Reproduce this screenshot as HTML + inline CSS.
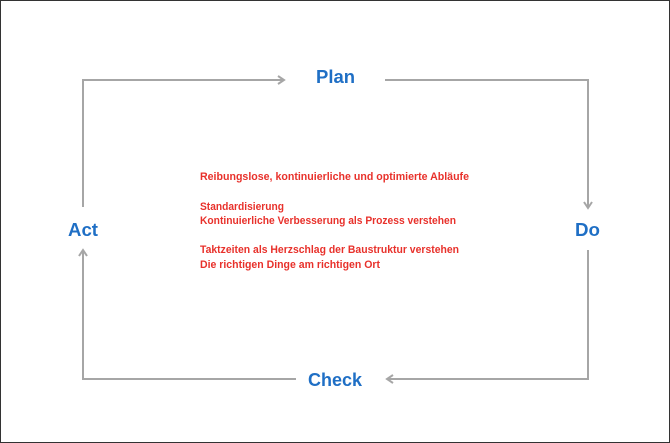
<!DOCTYPE html>
<html><head><style>body{margin:0;background:#fff}svg{display:block}</style></head><body>
<svg width="670" height="443" xmlns="http://www.w3.org/2000/svg">
<rect x="0.5" y="0.5" width="669" height="442" fill="#fff" stroke="#333" stroke-width="1"/>
<g stroke="#a6a6a6" stroke-width="2" fill="none">
<polyline points="83,207 83,80 284,80"/>
<polyline points="278,76 284,80 278,84"/>
<polyline points="385,80 588,80 588,208"/>
<polyline points="584,202 588,208 592,202"/>
<polyline points="588,250 588,379 387,379"/>
<polyline points="393,375 387,379 393,383"/>
<polyline points="296,379 83,379 83,250"/>
<polyline points="79,256 83,250 87,256"/>
</g>
<g font-family="Liberation Sans, sans-serif" font-weight="bold" fill="#1f6fc5" font-size="18">
<text x="316" y="83" textLength="39" lengthAdjust="spacingAndGlyphs">Plan</text>
<text x="575" y="236" textLength="25" lengthAdjust="spacingAndGlyphs">Do</text>
<text x="68" y="236" textLength="30" lengthAdjust="spacingAndGlyphs">Act</text>
<text x="308" y="386" textLength="54" lengthAdjust="spacingAndGlyphs">Check</text>
</g>
<g font-family="Liberation Sans, sans-serif" font-weight="bold" fill="#e8312b" font-size="11">
<text x="200" y="180" textLength="269" lengthAdjust="spacingAndGlyphs">Reibungslose, kontinuierliche  und optimierte Abläufe</text>
<text x="200" y="210" textLength="84" lengthAdjust="spacingAndGlyphs">Standardisierung</text>
<text x="200" y="224" textLength="256" lengthAdjust="spacingAndGlyphs">Kontinuierliche Verbesserung als Prozess verstehen</text>
<text x="200" y="253" textLength="259" lengthAdjust="spacingAndGlyphs">Taktzeiten als Herzschlag der Baustruktur verstehen</text>
<text x="200" y="268" textLength="180" lengthAdjust="spacingAndGlyphs">Die richtigen Dinge am richtigen Ort</text>
</g>
</svg>
</body></html>
